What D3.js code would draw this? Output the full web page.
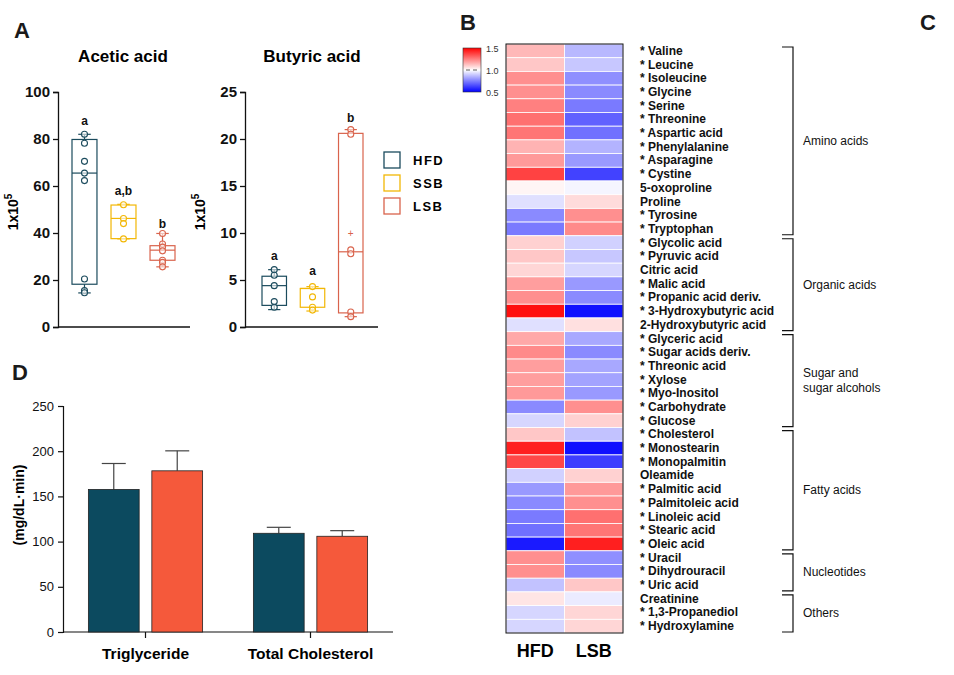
<!DOCTYPE html>
<html><head><meta charset="utf-8">
<script src="https://cdn.jsdelivr.net/npm/d3@7"></script>
<style>body{margin:0;background:#fff}svg{display:block;font-family:Arial,"Liberation Sans",sans-serif}</style>
</head><body><svg id="c" width="954" height="675"></svg>
<script>
// ---------- DATA ----------
const groups = ["HFD", "SSB", "LSB"];
const groupColors = ["#1b4b5d", "#f2b705", "#d9634c"];
const aceticPoints = [[82, 78.2, 70.5, 65.5, 62.3, 20.4, 15.5, 14.6], [52, 46.2, 44, 37.5], [39.8, 35.3, 34, 32.4, 28.4, 27.5, 25.6]];
const aceticBox = [[14.5, 18.2, 65.5, 79.8, 82], [37.5, 37.6, 46.2, 51.9, 52.2], [25.6, 28.4, 32.7, 34.6, 39.8]]; // min,q1,med,q3,max
const aceticLetters = ["a", "a,b", "b"];
const aceticLetterY = [87.5, 58, 44];
const butyricPoints = [[6.1, 5.5, 4.4, 2.7, 2.1], [4.3, 3.2, 2.1, 1.8], [21, 20.5, 8.2, 7.8, 1.6, 1.1]];
const butyricBox = [[1.85, 2.3, 4.4, 5.4, 6.1], [1.7, 2.1, 4.1, 4.1, 4.3], [1.1, 1.5, 8.0, 20.6, 21.0]];
const butyricMean = [null, null, 10.0];
const butyricLetters = ["a", "a", "b"];
const butyricLetterY = [7.6, 6.0, 22.2];
const aceticTicks = [0, 20, 40, 60, 80, 100];
const butyricTicks = [0, 5, 10, 15, 20, 25];

const metabolites = ["* Valine", "* Leucine", "* Isoleucine", "* Glycine", "* Serine", "* Threonine", "* Aspartic acid", "* Phenylalanine", "* Asparagine", "* Cystine", "5-oxoproline", "Proline", "* Tyrosine", "* Tryptophan",
  "* Glycolic acid", "* Pyruvic acid", "Citric acid", "* Malic acid", "* Propanic acid deriv.", "* 3-Hydroxybutyric acid", "2-Hydroxybutyric acid",
  "* Glyceric acid", "* Sugar acids deriv.", "* Threonic acid", "* Xylose", "* Myo-Inositol", "* Carbohydrate", "* Glucose",
  "* Cholesterol", "* Monostearin", "* Monopalmitin", "Oleamide", "* Palmitic acid", "* Palmitoleic acid", "* Linoleic acid", "* Stearic acid", "* Oleic acid",
  "* Uracil", "* Dihydrouracil", "* Uric acid", "Creatinine", "* 1,3-Propanediol", "* Hydroxylamine"];
const heatHFD = [1.14, 1.11, 1.22, 1.22, 1.25, 1.28, 1.27, 1.15, 1.2, 1.37, 1.02, 0.94, 0.77, 0.74,
  1.09, 1.11, 1.08, 1.19, 1.22, 1.47, 0.94,
  1.17, 1.23, 1.19, 1.19, 1.2, 0.77, 0.92,
  1.11, 1.44, 1.36, 0.91, 0.8, 0.77, 0.74, 0.72, 0.55,
  1.22, 1.22, 0.88, 1.05, 0.92, 0.92];
const heatLSB = [0.86, 0.89, 0.78, 0.77, 0.74, 0.69, 0.72, 0.85, 0.8, 0.63, 0.98, 1.07, 1.22, 1.23,
  0.91, 0.89, 0.92, 0.8, 0.77, 0.53, 1.06,
  0.83, 0.77, 0.83, 0.82, 0.8, 1.22, 1.09,
  0.88, 0.53, 0.62, 1.09, 1.2, 1.22, 1.28, 1.27, 1.44,
  0.78, 0.77, 1.11, 0.96, 1.08, 1.08];
const heatColumns = ["HFD", "LSB"];
const classNames = [["Amino acids"], ["Organic acids"], ["Sugar and", "sugar alcohols"], ["Fatty acids"], ["Nucleotides"], ["Others"]];
const classSizes = [14, 7, 7, 9, 3, 3];
const legendTicks = [1.5, 1.0, 0.5];

const barCategories = ["Triglyceride", "Total Cholesterol"];
const barGroups = ["HFD", "LSB"];
const barColors = ["#0c4a5f", "#f5593b"];
const barMeans = [[157.7, 178.3], [109.2, 105.9]];
const barErrTop = [[186.4, 200.4], [115.8, 112.1]];
const barTicks = [0, 50, 100, 150, 200, 250];

// ---------- DRAW ----------
const svg = d3.select("#c");
const FONT = 'Arial,"Liberation Sans",sans-serif';

function panelLetter(t, x, y) {
  svg.append("text").attr("x", x).attr("y", y).attr("font-size", 22).attr("font-weight", "bold").attr("fill", "#1a1a1a").text(t);
}
panelLetter("A", 14, 38); panelLetter("B", 460, 30); panelLetter("C", 920, 30); panelLetter("D", 12, 380);

function boxPanel(opt) {
  const g = svg.append("g");
  const y = d3.scaleLinear().domain([0, opt.max]).range([327, 92]);
  const x = d3.scaleBand().domain(groups).range(opt.boxRange).paddingInner(0.36).paddingOuter(0);
  const ax = g.append("g").attr("transform", `translate(${opt.x0},0)`).call(d3.axisLeft(y).tickValues(opt.ticks).tickSize(5).tickPadding(3));
  ax.select(".domain").attr("stroke", "#111").attr("stroke-width", 1.3);
  ax.selectAll(".tick line").attr("stroke", "#111").attr("stroke-width", 1.3);
  ax.selectAll("text").attr("font-size", 15).attr("font-weight", "bold").attr("font-family", FONT).attr("fill", "#111");
  g.append("line").attr("x1", opt.x0).attr("x2", opt.x1).attr("y1", y(0)).attr("y2", y(0)).attr("stroke", "#111").attr("stroke-width", 1.3);
  g.append("text").attr("x", opt.titleX).attr("y", 62).attr("text-anchor", "middle").attr("font-size", 17).attr("font-weight", "bold").text(opt.title);
  const yl = g.append("text").attr("transform", `translate(${opt.x0 - 40},212) rotate(-90)`).attr("text-anchor", "middle").attr("font-size", 14).attr("font-weight", "bold");
  yl.append("tspan").text("1x10");
  yl.append("tspan").attr("font-size", 10).attr("dy", -6).text("5");
  groups.forEach((gr, i) => {
    const b = opt.box[i], c = groupColors[i];
    const bw = x.bandwidth(), cx = x(gr) + bw / 2;
    g.append("line").attr("x1", cx).attr("x2", cx).attr("y1", y(b[4])).attr("y2", y(b[3])).attr("stroke", c).attr("stroke-width", 1.2);
    g.append("line").attr("x1", cx).attr("x2", cx).attr("y1", y(b[1])).attr("y2", y(b[0])).attr("stroke", c).attr("stroke-width", 1.2);
    [b[0], b[4]].forEach(v => g.append("line").attr("x1", cx - bw * 0.25).attr("x2", cx + bw * 0.25).attr("y1", y(v)).attr("y2", y(v)).attr("stroke", c).attr("stroke-width", 1.2));
    g.append("rect").attr("x", x(gr)).attr("width", bw).attr("y", y(b[3])).attr("height", y(b[1]) - y(b[3])).attr("fill", "none").attr("stroke", c).attr("stroke-width", 1.2);
    g.append("line").attr("x1", x(gr)).attr("x2", x(gr) + bw).attr("y1", y(b[2])).attr("y2", y(b[2])).attr("stroke", c).attr("stroke-width", 1.2);
    opt.points[i].forEach(v => g.append("circle").attr("cx", cx).attr("cy", y(v)).attr("r", 3).attr("fill", "#fff").attr("fill-opacity", 0.6).attr("stroke", c).attr("stroke-width", 1.1));
    if (opt.mean && opt.mean[i] != null) {
      g.append("text").attr("x", cx).attr("y", y(opt.mean[i]) + 3.5).attr("text-anchor", "middle").attr("font-size", 10).attr("fill", c).text("+");
    }
    g.append("text").attr("x", cx).attr("y", y(opt.letterY[i]) + 4).attr("text-anchor", "middle").attr("font-size", 12).attr("font-weight", "bold").attr("fill", "#111").text(opt.letters[i]);
  });
}
boxPanel({x0: 58, x1: 190, boxRange: [72, 175], titleX: 123, max: 100, ticks: aceticTicks, title: "Acetic acid", box: aceticBox, points: aceticPoints, letters: aceticLetters, letterY: aceticLetterY});
boxPanel({x0: 245, x1: 378, boxRange: [262, 363], titleX: 312, max: 25, ticks: butyricTicks, title: "Butyric acid", box: butyricBox, points: butyricPoints, mean: butyricMean, letters: butyricLetters, letterY: butyricLetterY});

// legend for A
groups.forEach((gr, i) => {
  const yy = 160 + i * 23;
  svg.append("rect").attr("x", 384).attr("y", yy - 8).attr("width", 16).attr("height", 16).attr("fill", "none").attr("stroke", groupColors[i]).attr("stroke-width", 1.3);
  svg.append("text").attr("x", 413).attr("y", yy + 5).attr("font-size", 13).attr("font-weight", "bold").attr("letter-spacing", 1.5).text(gr);
});

// ---------- Heatmap B ----------
const hm = svg.append("g");
const color = d3.scaleLinear().domain([0.5, 1, 1.5]).range(["#0000ff", "#ffffff", "#ff0000"]).clamp(true);
const hy = d3.scaleBand().domain(d3.range(metabolites.length)).range([44, 633]);
const hx = d3.scaleBand().domain(heatColumns).range([506, 623]);
[heatHFD, heatLSB].forEach((vals, ci) => {
  vals.forEach((v, ri) => {
    hm.append("rect").attr("x", hx(heatColumns[ci])).attr("y", hy(ri)).attr("width", hx.bandwidth()).attr("height", hy.bandwidth())
      .attr("fill", color(v)).attr("stroke", "#fff").attr("stroke-width", 0.8);
  });
});
hm.append("rect").attr("x", 506).attr("y", 44).attr("width", 117).attr("height", 589).attr("fill", "none").attr("stroke", "#111").attr("stroke-width", 1);
heatColumns.forEach(c => hm.append("text").attr("x", hx(c) + hx.bandwidth() / 2).attr("y", 657).attr("text-anchor", "middle").attr("font-size", 18).attr("font-weight", "bold").text(c));
metabolites.forEach((m, i) => hm.append("text").attr("x", 640).attr("y", hy(i) + hy.bandwidth() / 2 + 4).attr("font-size", 12).attr("font-weight", "bold").attr("fill", "#111").text(m));

// brackets
let start = 0;
classSizes.forEach((n, k) => {
  const top = hy(start) + 3, bot = hy(start + n - 1) + hy.bandwidth() - 1;
  hm.append("path").attr("d", `M782,${top}H793V${bot}H782`).attr("fill", "none").attr("stroke", "#111").attr("stroke-width", 1.2);
  const mid = (top + bot) / 2;
  const lines = classNames[k];
  lines.forEach((t, j) => hm.append("text").attr("x", 803).attr("y", mid + 4 + (j - (lines.length - 1) / 2) * 15).attr("font-size", 12).attr("fill", "#111").text(t));
  start += n;
});

// color legend
const defs = svg.append("defs");
const grad = defs.append("linearGradient").attr("id", "hg").attr("x1", 0).attr("y1", 0).attr("x2", 0).attr("y2", 1);
[1.5, 1.25, 1.0, 0.75, 0.5].forEach((v, i) => grad.append("stop").attr("offset", i / 4).attr("stop-color", color(v)));
const ly = d3.scaleLinear().domain([0.5, 1.5]).range([92, 48]);
svg.append("rect").attr("x", 463).attr("y", 48).attr("width", 18).attr("height", 44).attr("fill", "url(#hg)").attr("stroke", "#333").attr("stroke-width", 0.6);
svg.append("line").attr("x1", 466).attr("x2", 478).attr("y1", ly(1)).attr("y2", ly(1)).attr("stroke", "#333").attr("stroke-width", 0.8).attr("stroke-dasharray", "4,3");
legendTicks.forEach(v => svg.append("text").attr("x", 486).attr("y", ly(v) + 3.5).attr("font-size", 9).attr("fill", "#333").text(v.toFixed(1)));

// ---------- Bars D ----------
const bd = svg.append("g");
const by = d3.scaleLinear().domain([0, 250]).range([632, 406]);
const bx = d3.scaleBand().domain(barCategories).range([63, 393]).paddingInner(0).paddingOuter(0);
const bx2 = d3.scaleBand().domain(barGroups).range([0, bx.bandwidth()]).paddingInner(0.2).paddingOuter(0.4);
const bax = bd.append("g").attr("transform", "translate(63,0)").call(d3.axisLeft(by).tickValues(barTicks).tickSize(5).tickPadding(4));
bax.select(".domain").attr("stroke", "#111").attr("stroke-width", 1.2);
bax.selectAll(".tick line").attr("stroke", "#111").attr("stroke-width", 1.2);
bax.selectAll("text").attr("font-size", 13).attr("font-family", FONT).attr("fill", "#111");
bd.append("line").attr("x1", 63).attr("x2", 393).attr("y1", by(0)).attr("y2", by(0)).attr("stroke", "#111").attr("stroke-width", 1.2);
barCategories.forEach((cat, ci) => {
  const cx = bx(cat) + bx.bandwidth() / 2;
  bd.append("line").attr("x1", cx).attr("x2", cx).attr("y1", by(0)).attr("y2", by(0) + 6).attr("stroke", "#111").attr("stroke-width", 1.2);
  bd.append("text").attr("x", cx).attr("y", 659).attr("text-anchor", "middle").attr("font-size", 15.5).attr("font-weight", "bold").text(cat);
  barGroups.forEach((gr, gi) => {
    const x0 = bx(cat) + bx2(gr), w = bx2.bandwidth(), mx = x0 + w / 2;
    bd.append("line").attr("x1", mx).attr("x2", mx).attr("y1", by(barMeans[ci][gi])).attr("y2", by(barErrTop[ci][gi])).attr("stroke", "#444").attr("stroke-width", 1.2);
    bd.append("line").attr("x1", mx - 12).attr("x2", mx + 12).attr("y1", by(barErrTop[ci][gi])).attr("y2", by(barErrTop[ci][gi])).attr("stroke", "#444").attr("stroke-width", 1.2);
    bd.append("rect").attr("x", x0).attr("y", by(barMeans[ci][gi])).attr("width", w).attr("height", by(0) - by(barMeans[ci][gi])).attr("fill", barColors[gi]).attr("stroke", "#222").attr("stroke-width", 0.8);
  });
});
bd.append("text").attr("transform", "translate(24,505) rotate(-90)").attr("text-anchor", "middle").attr("font-size", 14).attr("font-weight", "bold").text("(mg/dL·min)");
</script></body></html>
